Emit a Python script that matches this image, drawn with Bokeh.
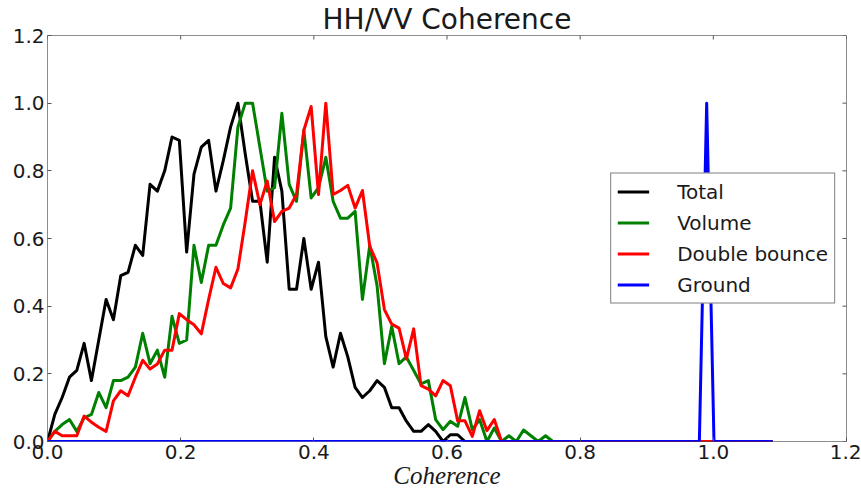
from bokeh.plotting import figure
from bokeh.models import ColumnDataSource, FixedTicker, Range1d, PrintfTickFormatter
from bokeh.embed import file_html
from bokeh.resources import INLINE

# ---------------- data ----------------
coherence = [
    0.0, 0.011, 0.022, 0.033, 0.044, 0.055, 0.066, 0.077, 0.088, 0.099,
    0.11, 0.121, 0.132, 0.143, 0.154, 0.165, 0.176, 0.187, 0.198, 0.209,
    0.22, 0.231, 0.242, 0.253, 0.264, 0.275, 0.286, 0.297, 0.308, 0.319,
    0.33, 0.341, 0.352, 0.363, 0.374, 0.385, 0.396, 0.407, 0.418, 0.429,
    0.44, 0.451, 0.462, 0.473, 0.484, 0.495, 0.506, 0.517, 0.528, 0.539,
    0.55, 0.561, 0.572, 0.583, 0.594, 0.605, 0.616, 0.627, 0.638, 0.649,
    0.66, 0.671, 0.682, 0.693, 0.704, 0.715, 0.726, 0.737, 0.748, 0.759,
    0.77, 0.781, 0.792, 0.803, 0.814, 0.825, 0.836, 0.847, 0.858, 0.869,
    0.88, 0.891, 0.902, 0.913, 0.924, 0.935, 0.946, 0.957, 0.968, 0.979,
    0.99, 1.001, 1.012, 1.023, 1.034, 1.045, 1.056, 1.067, 1.078, 1.089,
]

total = [
    0.0, 0.08, 0.13, 0.19, 0.21, 0.29, 0.18, 0.30, 0.42, 0.36,
    0.49, 0.50, 0.58, 0.55, 0.76, 0.74, 0.80, 0.90, 0.89, 0.56,
    0.79, 0.87, 0.89, 0.74, 0.83, 0.93, 1.0, 0.85, 0.71, 0.71,
    0.53, 0.84, 0.74, 0.45, 0.45, 0.60, 0.45, 0.53, 0.31, 0.22,
    0.32, 0.25, 0.16, 0.13, 0.15, 0.18, 0.16, 0.10, 0.10, 0.06,
    0.03, 0.03, 0.05, 0.03, 0.0, 0.02, 0.02, 0.0, 0.0, 0.0,
    0.0, 0.0, 0.0, 0.0, 0.0, 0.0, 0.0, 0.0, 0.0, 0.0,
    0.0, 0.0, 0.0, 0.0, 0.0, 0.0, 0.0, 0.0, 0.0, 0.0,
    0.0, 0.0, 0.0, 0.0, 0.0, 0.0, 0.0, 0.0, 0.0, 0.0,
    0.0, 0.0, 0.0, 0.0, 0.0, 0.0, 0.0, 0.0, 0.0, 0.0,
]

volume = [
    0.0, 0.03, 0.05, 0.065, 0.03, 0.07, 0.08, 0.145, 0.10, 0.18,
    0.18, 0.19, 0.22, 0.32, 0.23, 0.27, 0.19, 0.37, 0.29, 0.30,
    0.58, 0.47, 0.58, 0.58, 0.64, 0.69, 0.93, 1.0, 1.0, 0.87,
    0.74, 0.75, 0.97, 0.76, 0.71, 0.92, 0.72, 0.75, 0.84, 0.71,
    0.66, 0.66, 0.68, 0.42, 0.58, 0.46, 0.23, 0.34, 0.23, 0.25,
    0.21, 0.17, 0.18, 0.065, 0.035, 0.06, 0.045, 0.13, 0.035, 0.065,
    0.0, 0.04, 0.0, 0.017, 0.0, 0.034, 0.017, 0.0, 0.017, 0.0,
    0.0, 0.0, 0.0, 0.0, 0.0, 0.0, 0.0, 0.0, 0.0, 0.0,
    0.0, 0.0, 0.0, 0.0, 0.0, 0.0, 0.0, 0.0, 0.0, 0.0,
    0.0, 0.0, 0.0, 0.0, 0.0, 0.0, 0.0, 0.0, 0.0, 0.0,
]

double_bounce = [
    0.0, 0.03, 0.017, 0.017, 0.017, 0.075, 0.057, 0.042, 0.03, 0.12,
    0.15, 0.135, 0.19, 0.24, 0.214, 0.229, 0.27, 0.27, 0.378, 0.36,
    0.345, 0.318, 0.42, 0.515, 0.467, 0.454, 0.51, 0.65, 0.80, 0.70,
    0.77, 0.65, 0.68, 0.69, 0.73, 0.92, 0.99, 0.73, 1.0, 0.73,
    0.742, 0.757, 0.69, 0.742, 0.577, 0.528, 0.39, 0.347, 0.335, 0.244,
    0.333, 0.165, 0.155, 0.135, 0.18, 0.165, 0.061, 0.061, 0.015, 0.091,
    0.032, 0.065, 0.0, 0.0, 0.0, 0.0, 0.0, 0.0, 0.0, 0.0,
    0.0, 0.0, 0.0, 0.0, 0.0, 0.0, 0.0, 0.0, 0.0, 0.0,
    0.0, 0.0, 0.0, 0.0, 0.0, 0.0, 0.0, 0.0, 0.0, 0.0,
    0.0, 0.0, 0.0, 0.0, 0.0, 0.0, 0.0, 0.0, 0.0, 0.0,
]

ground = [
    0.0, 0.0, 0.0, 0.0, 0.0, 0.0, 0.0, 0.0, 0.0, 0.0,
    0.0, 0.0, 0.0, 0.0, 0.0, 0.0, 0.0, 0.0, 0.0, 0.0,
    0.0, 0.0, 0.0, 0.0, 0.0, 0.0, 0.0, 0.0, 0.0, 0.0,
    0.0, 0.0, 0.0, 0.0, 0.0, 0.0, 0.0, 0.0, 0.0, 0.0,
    0.0, 0.0, 0.0, 0.0, 0.0, 0.0, 0.0, 0.0, 0.0, 0.0,
    0.0, 0.0, 0.0, 0.0, 0.0, 0.0, 0.0, 0.0, 0.0, 0.0,
    0.0, 0.0, 0.0, 0.0, 0.0, 0.0, 0.0, 0.0, 0.0, 0.0,
    0.0, 0.0, 0.0, 0.0, 0.0, 0.0, 0.0, 0.0, 0.0, 0.0,
    0.0, 0.0, 0.0, 0.0, 0.0, 0.0, 0.0, 0.0, 0.0, 0.0,
    1.0, 0.0, 0.0, 0.0, 0.0, 0.0, 0.0, 0.0, 0.0, 0.0,
]

series_keys = ["total", "volume", "double_bounce", "ground"]
series_names = ["Total", "Volume", "Double bounce", "Ground"]
series_colors = ["#000000", "#008000", "#ff0000", "#0000ff"]
tick_values = [0.0, 0.2, 0.4, 0.6, 0.8, 1.0, 1.2]
axis_max = 1.2

TITLE = "HH/VV Coherence"
XLABEL = "Coherence"

# ---------------- figure ----------------
source = ColumnDataSource(dict(coherence=coherence, total=total, volume=volume,
                               double_bounce=double_bounce, ground=ground))

p = figure(width=861, height=491,
           x_range=Range1d(0, axis_max), y_range=Range1d(0, axis_max),
           output_backend="svg", toolbar_location=None,
           title=TITLE,
           min_border_left=47, min_border_right=15,
           min_border_top=35, min_border_bottom=50)

p.background_fill_color = "white"
p.border_fill_color = "white"
p.outline_line_color = "#8c8c8c"
p.outline_line_width = 1
p.xgrid.visible = False
p.ygrid.visible = False

p.title.text_font = "DejaVu Sans"
p.title.text_font_size = "28px"
p.title.text_font_style = "normal"
p.title.text_color = "#1a1a1a"
p.title.align = "center"
p.title.standoff = -1

ticker = FixedTicker(ticks=tick_values)
fmt = PrintfTickFormatter(format="%.1f")

for ax in (p.xaxis[0], p.yaxis[0]):
    ax.ticker = ticker
    ax.formatter = fmt
    ax.axis_line_color = None
    ax.major_tick_in = 4
    ax.major_tick_out = 0
    ax.major_tick_line_color = "#555555"
    ax.minor_tick_line_color = None
    ax.major_label_text_font = "DejaVu Sans"
    ax.major_label_text_font_size = "20px"
    ax.major_label_text_color = "#1a1a1a"

p.xaxis[0].major_label_standoff = 3
p.yaxis[0].major_label_standoff = 3
p.xaxis[0].axis_label = XLABEL
p.xaxis[0].axis_label_text_font = "Liberation Serif"
p.xaxis[0].axis_label_text_font_style = "italic"
p.xaxis[0].axis_label_text_font_size = "25px"
p.xaxis[0].axis_label_text_color = "#1a1a1a"
p.xaxis[0].axis_label_standoff = 0

# inward tick marks on the top and right spines (matplotlib style box)
tick_len_y = 4 * axis_max / 406
tick_len_x = 4 * axis_max / 799
p.segment(x0=tick_values, y0=[axis_max] * len(tick_values),
          x1=tick_values, y1=[axis_max - tick_len_y] * len(tick_values),
          line_color="#555555", line_width=1)
p.segment(x0=[axis_max] * len(tick_values), y0=tick_values,
          x1=[axis_max - tick_len_x] * len(tick_values), y1=tick_values,
          line_color="#555555", line_width=1)

for key, name, color in zip(series_keys, series_names, series_colors):
    p.line(x="coherence", y=key, source=source, line_color=color, line_width=3,
           line_join="round", legend_label=name)

lg = p.legend[0]
lg.location = "center_right"
lg.margin = 11
lg.border_line_color = "#000000"
lg.border_line_width = 1
lg.background_fill_color = "white"
lg.background_fill_alpha = 1.0
lg.label_text_font = "DejaVu Sans"
lg.label_text_font_size = "20px"
lg.label_text_color = "#1a1a1a"
lg.glyph_width = 32
lg.glyph_height = 24
lg.label_height = 24
lg.label_standoff = 28
lg.spacing = 7
lg.padding = 6

open("out.html", "w").write(file_html(p, INLINE))
